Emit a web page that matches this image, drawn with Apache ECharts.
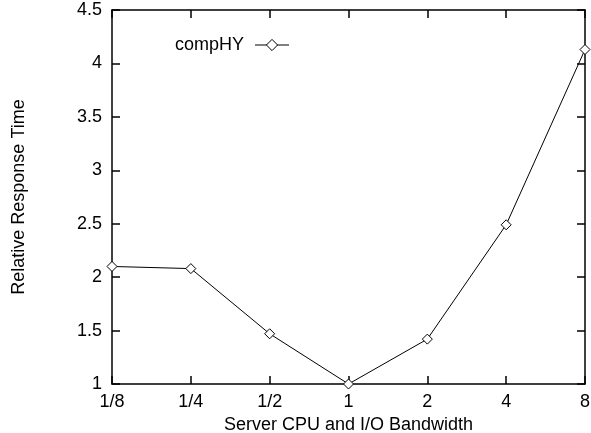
<!DOCTYPE html>
<html>
<head>
<meta charset="utf-8">
<script src="https://cdn.jsdelivr.net/npm/echarts@6/dist/echarts.min.js"></script>
<style>
  html, body { margin: 0; padding: 0; background: #fff; }
  #chart { width: 591px; height: 433px; }
</style>
</head>
<body>
<div id="chart"></div>
<script>
// Bandwidth scaling factors (x axis) and relative response time for compHY
const categories = ['1/8', '1/4', '1/2', '1', '2', '4', '8'];
const compHY = [2.10, 2.08, 1.47, 1.00, 1.42, 2.49, 4.13];
const yMin = 1, yMax = 4.5, yStep = 0.5;

const FONT = 'Liberation Sans, Arial, Helvetica, sans-serif';
const FS = 18;
const chart = echarts.init(document.getElementById('chart'));

const tickStyle = { show: true, inside: true, length: 8, lineStyle: { color: '#000', width: 1.5 } };
const lineStyle = { show: true, lineStyle: { color: '#000', width: 1.5 } };

chart.setOption({
  animation: false,
  backgroundColor: '#fff',
  textStyle: { fontFamily: FONT },
  grid: { left: 112, right: 6, top: 10, bottom: 49, containLabel: false, outerBoundsMode: 'none' },
  legend: {
    data: ['compHY'],
    left: 170, top: 31,
    align: 'right',
    itemWidth: 34, itemHeight: 14, itemGap: 10,
    lineStyle: { width: 1, color: '#000' },
    itemStyle: { borderWidth: 1, borderColor: '#000', color: '#fff' },
    textStyle: { fontFamily: FONT, fontSize: FS, color: '#000', padding: [0, 6, 0, 0] },
    inactiveColor: '#000'
  },
  xAxis: [
    {
      type: 'category', data: categories, boundaryGap: false, position: 'bottom',
      axisLine: lineStyle, axisTick: tickStyle,
      axisLabel: { color: '#000', fontSize: FS, fontFamily: FONT, margin: 9 },
      splitLine: { show: false },
      name: 'Server CPU and I/O Bandwidth', nameLocation: 'middle', nameGap: 25,
      nameTextStyle: { color: '#000', fontSize: FS, fontFamily: FONT }
    },
    {
      type: 'category', data: categories, boundaryGap: false, position: 'top',
      axisLine: lineStyle, axisTick: tickStyle, axisLabel: { show: false },
      splitLine: { show: false }
    }
  ],
  yAxis: [
    {
      type: 'value', min: yMin, max: yMax, interval: yStep, position: 'left',
      axisLine: lineStyle, axisTick: tickStyle,
      axisLabel: { color: '#000', fontSize: FS, fontFamily: FONT, margin: 10 },
      splitLine: { show: false },
      name: 'Relative Response Time', nameLocation: 'middle', nameGap: 84,
      nameTextStyle: { color: '#000', fontSize: FS, fontFamily: FONT }
    },
    {
      type: 'value', min: yMin, max: yMax, interval: yStep, position: 'right',
      axisLine: lineStyle, axisTick: tickStyle, axisLabel: { show: false },
      splitLine: { show: false }
    }
  ],
  series: [
    {
      name: 'compHY', type: 'line', data: compHY,
      symbol: 'diamond', symbolSize: 10, showAllSymbol: true,
      itemStyle: { color: '#fff', borderColor: '#000', borderWidth: 1 },
      lineStyle: { color: '#000', width: 1 },
      emphasis: { disabled: true }
    }
  ]
});
</script>
</body>
</html>
